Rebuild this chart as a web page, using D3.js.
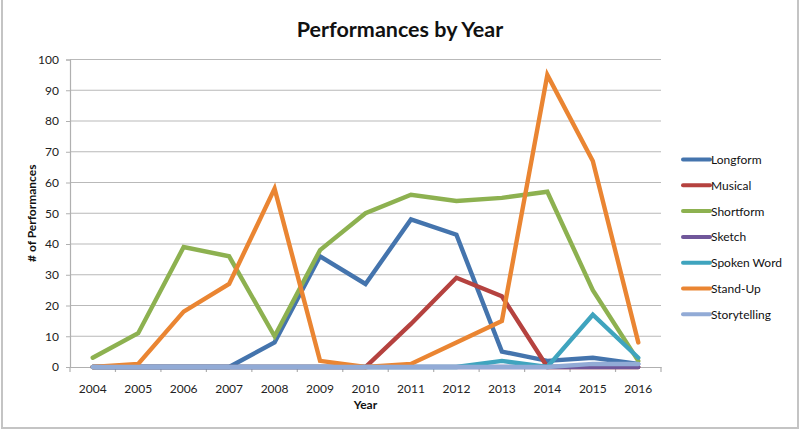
<!DOCTYPE html>
<html>
<head>
<meta charset="utf-8">
<script src="https://cdn.jsdelivr.net/npm/d3@7"></script>
<style>
  html, body { margin: 0; padding: 0; background: #fff; }
  svg { display: block; font-family: Lato, "Open Sans", sans-serif; }
</style>
</head>
<body>
<svg id="chart" width="800" height="430"></svg>
<script>
const years = ["2004","2005","2006","2007","2008","2009","2010","2011","2012","2013","2014","2015","2016"];
const seriesNames = ["Longform","Musical","Shortform","Sketch","Spoken Word","Stand-Up","Storytelling"];
const longform    = [0, 0, 0, 0, 8, 36, 27, 48, 43, 5, 2, 3, 1];
const musical     = [0, 0, 0, 0, 0, 0, 0, 14, 29, 23, 0, 0, 0];
const shortform   = [3, 11, 39, 36, 10, 38, 50, 56, 54, 55, 57, 25, 2];
const sketch      = [0, 0, 0, 0, 0, 0, 0, 0, 0, 0, 0, 0, 0];
const spokenWord  = [0, 0, 0, 0, 0, 0, 0, 0, 0, 2, 0, 17, 3];
const standUp     = [0, 1, 18, 27, 58, 2, 0, 1, 8, 15, 95, 67, 8];
const storytelling= [0, 0, 0, 0, 0, 0, 0, 0, 0, 0, 0, 1, 1];
const yTicks = [0,10,20,30,40,50,60,70,80,90,100];
const colors = ["#4474ad","#b5423f","#8db150","#70579a","#3fa4be","#ea8532","#92abd6"];

const seriesValues = [longform, musical, shortform, sketch, spokenWord, standUp, storytelling];

const svg = d3.select("#chart");
const plotLeft = 70, plotRight = 661, plotTop = 59.5, plotBottom = 367;

// chart border
svg.append("path")
  .attr("d", `M2,0 V428 H798 V0`)
  .attr("fill", "none").attr("stroke", "#c4c4c4").attr("stroke-width", 2);

const x = d3.scaleBand().domain(years).range([plotLeft, plotRight]).padding(0);
const y = d3.scaleLinear().domain([0, 100]).range([plotBottom, plotTop]);

// gridlines
svg.append("g").selectAll("line").data(yTicks.filter(d => d > 0)).join("line")
  .attr("x1", plotLeft).attr("x2", plotRight)
  .attr("y1", d => y(d)).attr("y2", d => y(d))
  .attr("stroke", "#b9b9b9").attr("stroke-width", 1.2);

// y axis
const yAxis = svg.append("g").attr("transform", `translate(${plotLeft},0)`)
  .call(d3.axisLeft(y).tickValues(yTicks).tickSize(4).tickPadding(7));
yAxis.select(".domain").attr("stroke", "#b0b0b0").attr("stroke-width", 1.2);
yAxis.selectAll(".tick line").attr("stroke", "#b0b0b0");
yAxis.selectAll("text").attr("font-size", 12).attr("fill", "#222").attr("font-family", "Lato, sans-serif");

// x axis with ticks at band boundaries
const xAxis = svg.append("g").attr("transform", `translate(0,${plotBottom})`)
  .call(d3.axisBottom(x).tickSize(0).tickPadding(17));
xAxis.select(".domain").attr("stroke", "#b0b0b0").attr("stroke-width", 1.2);
xAxis.selectAll("text").attr("font-size", 12).attr("fill", "#222").attr("font-family", "Lato, sans-serif");
const boundaries = years.map(d => x(d)).concat([x(years[years.length-1]) + x.bandwidth()]);
xAxis.selectAll(".bnd").data(boundaries).join("line").attr("class","bnd")
  .attr("x1", d => d).attr("x2", d => d).attr("y1", 0).attr("y2", 5)
  .attr("stroke", "#b0b0b0").attr("stroke-width", 1.2);

// lines
const line = d3.line()
  .x((d, i) => x(years[i]) + x.bandwidth() / 2)
  .y(d => y(d));
svg.append("g").selectAll("path").data(seriesValues).join("path")
  .attr("d", d => line(d))
  .attr("fill", "none")
  .attr("stroke", (d, i) => colors[i])
  .attr("stroke-width", 4.4)
  .attr("stroke-linejoin", "miter")
  .attr("stroke-linecap", "round");

// title
svg.append("text").attr("x", 400).attr("y", 37).attr("text-anchor", "middle")
  .attr("font-size", 21.5).attr("font-weight", "bold").attr("fill", "#111")
  .text("Performances by Year");

// axis titles
svg.append("text").attr("x", (plotLeft + plotRight) / 2).attr("y", 409).attr("text-anchor", "middle")
  .attr("font-size", 12).attr("font-weight", "bold").attr("fill", "#111").text("Year");
svg.append("text").attr("transform", `translate(36,${(plotTop + plotBottom) / 2}) rotate(-90)`)
  .attr("text-anchor", "middle")
  .attr("font-size", 12).attr("font-weight", "bold").attr("fill", "#111").text("# of Performances");

// legend
const legend = svg.append("g");
const items = legend.selectAll("g").data(seriesNames).join("g")
  .attr("transform", (d, i) => `translate(683,${159.5 + i * 25.8})`);
items.append("line").attr("x1", 0).attr("x2", 27).attr("y1", 0).attr("y2", 0)
  .attr("stroke", (d, i) => colors[i]).attr("stroke-width", 4).attr("stroke-linecap", "round");
items.append("text").attr("x", 28).attr("y", 4.5).attr("font-size", 12).attr("fill", "#111")
  .text(d => d);
</script>
</body>
</html>
